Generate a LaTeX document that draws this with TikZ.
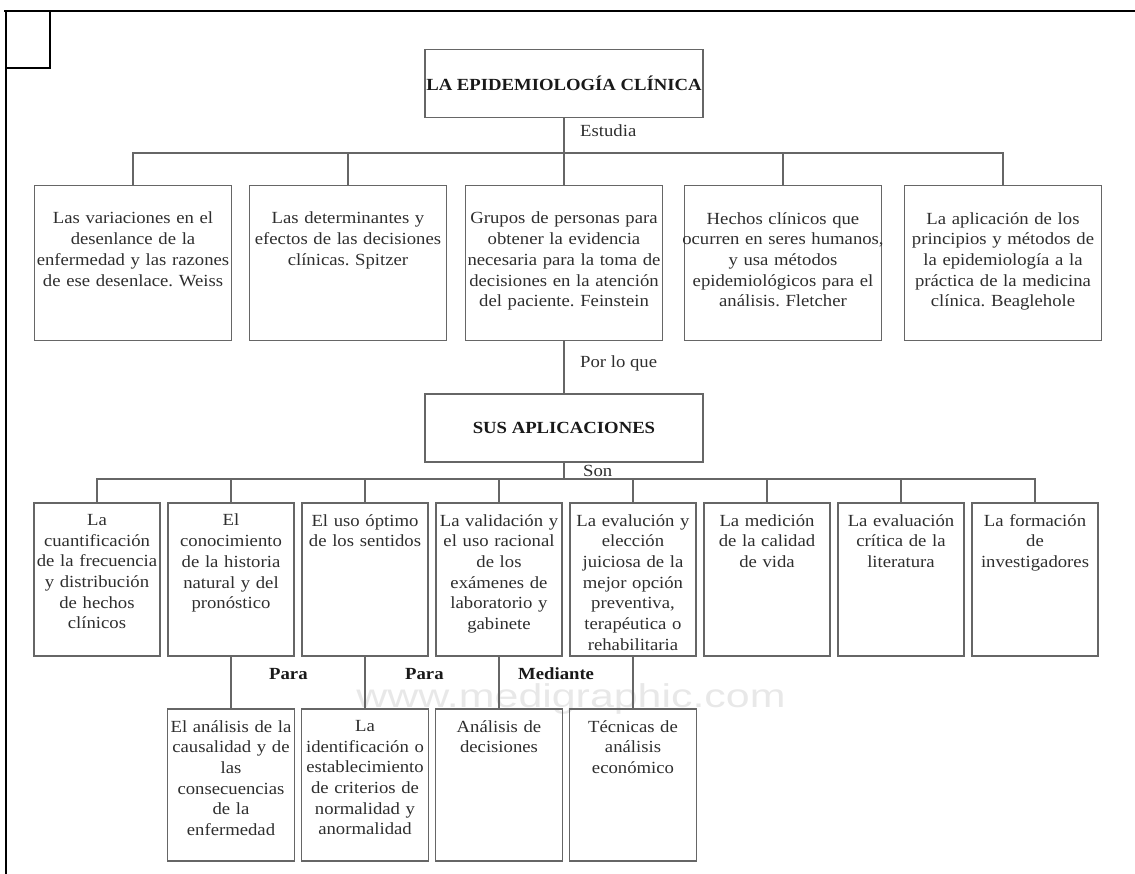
\documentclass[tikz,border=0pt]{standalone}
\usepackage{fontspec}
\setmainfont[FakeStretch=1.1]{Liberation Serif}
\newfontfamily\wmfont[FakeStretch=1.3]{Liberation Sans}
\usetikzlibrary{positioning}
\frenchspacing

\begin{document}
\begin{tikzpicture}[x=1pt,y=-1pt,
  every node/.style={font=\fontsize{17}{20.7}\selectfont, text=black!82, inner sep=0pt},
  box/.style={draw=black!60, line width=1.5pt},
  topbox/.style={box, minimum width=278pt, minimum height=68pt, text=black!90,
    font=\fontsize{17}{20.7}\selectfont\bfseries},
  casebox/.style={box, minimum width=197pt, minimum height=155pt, anchor=north},
  appbox/.style={box, minimum width=126pt, minimum height=153pt, anchor=north},
  subbox/.style={box, minimum width=127pt, minimum height=152pt, anchor=north},
  txt/.style={align=center, text width=#1},
  conn/.style={draw=black!60, line width=1.4pt},
  lbl/.style={anchor=base west},
  blbl/.style={anchor=base west, text=black!90, font=\fontsize{17}{20.7}\selectfont\bfseries}]
\useasboundingbox (0,0) rectangle (1135,874);

% marco
\draw[line width=2.5pt] (4,11) -- (1135,11);
\draw[line width=2.5pt] (6,11) -- (6,874);
\draw[line width=2.5pt] (6,68) -- (50,68) -- (50,11);

\node[anchor=base, text=black!9, font=\wmfont\fontsize{33}{33}\selectfont] (wm) at (571,707) {www.medigraphic.com};

% titulo
\node[topbox] (epi) at (564,83.5) {LA EPIDEMIOLOGÍA CLÍNICA};
\coordinate (bus1) at (564,153);
\node[lbl] (estudia) at (580,137) {Estudia};

% definiciones
\node[casebox] (d1) at (133,185) {};
\node[casebox] (d2) at (348,185) {};
\node[casebox] (d3) at (564,185) {};
\node[casebox] (d4) at (783,185) {};
\node[casebox] (d5) at (1003,185) {};
\node[txt=215pt, below=27pt of d1.north] (d1t) {Las variaciones en el\\desenlance de la\\enfermedad y las razones\\de ese desenlace. Weiss};
\node[txt=215pt, below=27pt of d2.north] (d2t) {Las determinantes y\\efectos de las decisiones\\clínicas. Spitzer};
\node[txt=215pt, below=27pt of d3.north] (d3t) {Grupos de personas para\\obtener la evidencia\\necesaria para la toma de\\decisiones en la atención\\del paciente. Feinstein};
\node[txt=215pt, below=27pt of d4.north] (d4t) {Hechos clínicos que\\ocurren en seres humanos,\\y usa métodos\\epidemiológicos para el\\análisis. Fletcher};
\node[txt=215pt, below=27pt of d5.north] (d5t) {La aplicación de los\\principios y métodos de\\la epidemiología a la\\práctica de la medicina\\clínica. Beaglehole};

\draw[conn] (epi.south) -- (bus1);
\foreach \i in {1,...,5}
  \draw[conn] (bus1) -| (d\i.north);

% aplicaciones
\node[topbox] (sus) at (564,428) {SUS APLICACIONES};
\node[lbl] (porloque) at (580,368) {Por lo que};
\draw[conn] (d3.south) -- (sus.north);
\coordinate (bus2) at (564,479);
\node[lbl] (son) at (583,476) {Son};

\node[appbox] (a1) at (97,502) {};
\node[appbox] (a2) at (231,502) {};
\node[appbox] (a3) at (365,502) {};
\node[appbox] (a4) at (499,502) {};
\node[appbox] (a5) at (633,502) {};
\node[appbox] (a6) at (767,502) {};
\node[appbox] (a7) at (901,502) {};
\node[appbox] (a8) at (1035,502) {};
\node[txt=140pt, below=12pt of a1.north] (a1t) {La\\cuantificación\\de la frecuencia\\y distribución\\de hechos\\clínicos};
\node[txt=140pt, below=12pt of a2.north] (a2t) {El\\conocimiento\\de la historia\\natural y del\\pronóstico};
\node[txt=140pt, below=12pt of a3.north] (a3t) {El uso óptimo\\de los sentidos};
\node[txt=140pt, below=12pt of a4.north] (a4t) {La validación y\\el uso racional\\de los\\exámenes de\\laboratorio y\\gabinete};
\node[txt=140pt, below=12pt of a5.north] (a5t) {La evalución y\\elección\\juiciosa de la\\mejor opción\\preventiva,\\terapéutica o\\rehabilitaria};
\node[txt=140pt, below=12pt of a6.north] (a6t) {La medición\\de la calidad\\de vida};
\node[txt=140pt, below=12pt of a7.north] (a7t) {La evaluación\\crítica de la\\literatura};
\node[txt=140pt, below=12pt of a8.north] (a8t) {La formación\\de\\investigadores};

\draw[conn] (sus.south) -- (bus2);
\foreach \i in {1,...,8}
  \draw[conn] (bus2) -| (a\i.north);

% para / mediante
\node[subbox] (b1) at (231,708) {};
\node[subbox] (b2) at (365,708) {};
\node[subbox] (b3) at (499,708) {};
\node[subbox] (b4) at (633,708) {};
\node[txt=140pt, below=12pt of b1.north] (b1t) {El análisis de la\\causalidad y de\\las\\consecuencias\\de la\\enfermedad};
\node[txt=140pt, below=12pt of b2.north] (b2t) {La\\identificación o\\establecimiento\\de criterios de\\normalidad y\\anormalidad};
\node[txt=140pt, below=12pt of b3.north] (b3t) {Análisis de\\decisiones};
\node[txt=140pt, below=12pt of b4.north] (b4t) {Técnicas de\\análisis\\económico};

\foreach \i/\j in {2/1,3/2,4/3,5/4}
  \draw[conn] (a\i.south) -- (b\j.north);
\node[blbl] (para1) at (269,679) {Para};
\node[blbl] (para2) at (405,679) {Para};
\node[blbl] (mediante) at (518,679) {Mediante};
\end{tikzpicture}
\end{document}
